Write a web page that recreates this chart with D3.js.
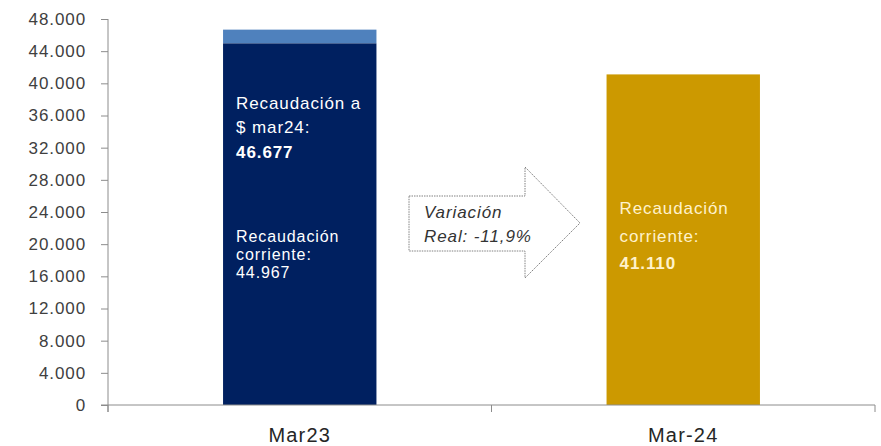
<!DOCTYPE html>
<html>
<head>
<meta charset="utf-8">
<script src="https://cdn.jsdelivr.net/npm/d3@7"></script>
<style>
  body { margin: 0; background: #fff; }
  text { font-family: "Liberation Sans", Arial, sans-serif; letter-spacing: 0.9px; }
</style>
</head>
<body>
<svg id="chart" width="881" height="446"></svg>
<script>
// datos
const categories = ["Mar23", "Mar-24"];
const corriente = [44967, 41110];
const ajustado = [46677, null]; // recaudación a $ mar24
const yTicks = [0, 4000, 8000, 12000, 16000, 20000, 24000, 28000, 32000, 36000, 40000, 44000, 48000];
const variacion = ["Variación", "Real: -11,9%"];

const width = 881, height = 446;
const margin = { top: 19, right: 6, bottom: 41, left: 108 };
const innerW = width - margin.left - margin.right;
const innerH = height - margin.top - margin.bottom;

const svg = d3.select("#chart");
const g = svg.append("g").attr("transform", `translate(${margin.left},${margin.top})`);

const x = d3.scaleBand().domain(categories).range([0, innerW]).paddingInner(0.6).paddingOuter(0.3);
const xOuter = d3.scaleBand().domain(categories).range([0, innerW]);
const y = d3.scaleLinear().domain([0, 48000]).range([innerH, 0]);

const fmt = d => d3.format(",")(d).replace(/,/g, ".");
const axisColor = "#8c8c8c";

// eje y
const yAxis = g.append("g")
  .call(d3.axisLeft(y).tickValues(yTicks).tickFormat(fmt).tickSize(7).tickPadding(15));
yAxis.select(".domain").attr("stroke", axisColor).attr("d", `M0,${innerH + 7}V0`);
yAxis.selectAll(".tick line").attr("stroke", axisColor);
yAxis.selectAll(".tick text").attr("fill", "#404040").style("font-size", "17px");

// barras
const colors = ["#002060", "#cc9900"];
g.selectAll(".bar-top")
  .data(categories.filter((c, i) => ajustado[i] != null))
  .enter().append("rect")
  .attr("x", c => x(c))
  .attr("width", x.bandwidth())
  .attr("y", c => y(ajustado[categories.indexOf(c)]))
  .attr("height", c => y(corriente[categories.indexOf(c)]) - y(ajustado[categories.indexOf(c)]))
  .attr("fill", "#4f81bd");

g.selectAll(".bar")
  .data(categories)
  .enter().append("rect")
  .attr("x", c => x(c))
  .attr("width", x.bandwidth())
  .attr("y", (c, i) => y(corriente[i]))
  .attr("height", (c, i) => innerH - y(corriente[i]))
  .attr("fill", (c, i) => colors[i]);

// eje x
const xAxis = g.append("g").attr("transform", `translate(0,${innerH})`);
xAxis.append("line").attr("x1", -7).attr("x2", innerW).attr("stroke", axisColor);
xAxis.selectAll(".xt")
  .data([0, xOuter.bandwidth(), innerW])
  .enter().append("line")
  .attr("x1", d => d).attr("x2", d => d)
  .attr("y1", 0).attr("y2", 7)
  .attr("stroke", axisColor);
xAxis.selectAll(".xl")
  .data(categories)
  .enter().append("text")
  .attr("x", c => xOuter(c) + xOuter.bandwidth() / 2)
  .attr("y", 37)
  .attr("text-anchor", "middle")
  .attr("fill", "#262626")
  .style("font-size", "20px")
  .style("letter-spacing", "1.2px")
  .text(c => c);

// etiquetas dentro de las barras
function label(cat, lines, fill) {
  const x0 = x(cat) + 13;
  lines.forEach(l => {
    g.append("text")
      .attr("x", x0)
      .attr("y", l.y)
      .attr("fill", fill)
      .style("font-size", (l.size || 17) + "px")
      .style("font-weight", l.bold ? "bold" : "normal")
      .text(l.t);
  });
}
label(categories[0], [
  { t: "Recaudación a", y: 90 },
  { t: "$ mar24:", y: 114 },
  { t: fmt(ajustado[0]) + "", y: 139, bold: true },
  { t: "Recaudación", y: 223, size: 16 },
  { t: "corriente:", y: 241, size: 16 },
  { t: fmt(corriente[0]), y: 259, size: 16 }
], "#ffffff");
label(categories[1], [
  { t: "Recaudación", y: 195 },
  { t: "corriente:", y: 223 },
  { t: fmt(corriente[1]), y: 250, bold: true }
], "#fff2cc");

// flecha de variación
const ax0 = 409 - margin.left, ax1 = 525 - margin.left, tip = 580 - margin.left;
const sTop = 196 - margin.top, sBot = 251 - margin.top;
const hTop = 167 - margin.top, hBot = 278 - margin.top, mid = 223 - margin.top;
g.append("path")
  .attr("d", `M${ax0},${sTop}H${ax1}V${hTop}L${tip},${mid}L${ax1},${hBot}V${sBot}H${ax0}Z`)
  .attr("fill", "#fff")
  .attr("stroke", "#808080")
  .attr("stroke-width", 1)
  .attr("stroke-dasharray", "1.5,1");
variacion.forEach((t, i) => {
  g.append("text")
    .attr("x", 424 - margin.left)
    .attr("y", 218 - margin.top + i * 24)
    .attr("fill", "#333")
    .style("font-size", "17px")
    .style("font-style", "italic")
    .text(t);
});
</script>
</body>
</html>
